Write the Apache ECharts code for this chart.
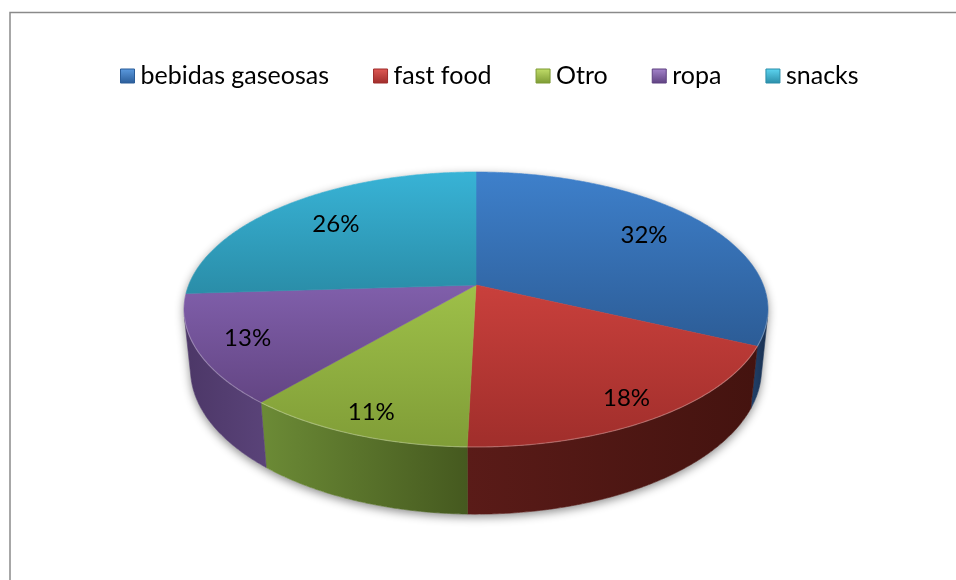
<!DOCTYPE html>
<html><head><meta charset="utf-8">
<script src="https://cdn.jsdelivr.net/npm/echarts@6/dist/echarts.min.js"></script>
<style>html,body{margin:0;padding:0;background:#fff}#c{width:956px;height:580px}</style>
</head><body><div id="c"></div>
<script>
// ---- data ----
const categories = ['bebidas gaseosas', 'fast food', 'Otro', 'ropa', 'snacks'];
const values = [32.0, 18.4, 10.8, 12.8, 26.0];

// ---- styles ----
const topColors = [['#3E80CB', '#2C5C96'], ['#C9403C', '#A02E2B'], ['#9EC049', '#809D37'], ['#805FAB', '#634583'], ['#38B3D6', '#2A8DA8']];
const wallColors = [['#22426C', '#182E4D'], ['#5A1B18', '#44130F'], ['#6C8B36', '#45591F'], ['#4C3767', '#5A4379'], ['#1E6F86', '#185A6C']];
const legendColors = [['#5C9BE0', '#2A5C98'], ['#E05A55', '#9E2C2A'], ['#C2DE6A', '#7C9A33'], ['#A585CC', '#5E4180'], ['#5ED6F2', '#2A8DA8']];
const FONT = 'Lato, "Open Sans", sans-serif';

// ---- 3D projection (layout) ----
const DEG = Math.PI / 180;
const CX = 476, CY = 285, FOCAL = 1428.8, DIST = 4.973, TILT = 27.6 * DEG, THICK = 0.2366;
function proj(phi, y, t) {
  const X = t * Math.sin(phi), Z = -t * Math.cos(phi);
  const u = y * Math.cos(TILT) - Z * Math.sin(TILT);
  const depth = DIST - y * Math.sin(TILT) - Z * Math.cos(TILT);
  return [CX + FOCAL * X / depth, CY - FOCAL * u / depth];
}
const VIS_MIN = Math.acos(-1 / (DIST * Math.cos(TILT)));
const VIS_MAX = 2 * Math.PI - VIS_MIN;
function arc(a, b, y, t) {
  const n = Math.max(2, Math.ceil((b - a) / (0.5 * DEG)));
  const pts = [];
  for (let i = 0; i <= n; i++) pts.push(proj(a + (b - a) * i / n, y, t));
  return pts;
}
const total = values.reduce((s, v) => s + v, 0);
const starts = [];
let acc = 0;
values.forEach(v => { starts.push(acc / total * 2 * Math.PI); acc += v; });

function grad(c, horiz) {
  return new echarts.graphic.LinearGradient(0, 0, horiz ? 1 : 0, horiz ? 0 : 1, [
    { offset: 0, color: c[0] }, { offset: 1, color: c[1] }]);
}

function renderSlice(i) {
  const a = starts[i], b = a + values[i] / total * 2 * Math.PI;
  const children = [];
  const wa = Math.max(a, VIS_MIN), wb = Math.min(b, VIS_MAX);
  if (wb > wa) {
    const pts = arc(wa, wb, 0, 1).concat(arc(wa, wb, -THICK, 1).reverse());
    const g = grad(wallColors[i], true);
    children.push({ type: 'polygon', z2: 1, shape: { points: pts }, style: { fill: g, stroke: g, lineWidth: 0.6 } });
  }
  const topPts = [proj(0, 0, 0)].concat(arc(a, b, 0, 1));
  const tg = grad(topColors[i], false);
  children.push({ type: 'polygon', z2: 2, shape: { points: topPts }, style: { fill: tg, stroke: tg, lineWidth: 0.6 } });
  if (wb > wa) {
    children.push({ type: 'polyline', z2: 3, shape: { points: arc(wa, wb, 0, 1) }, style: { fill: null, stroke: 'rgba(255,255,255,0.25)', lineWidth: 1.2 } });
  }
  const mid = (a + b) / 2;
  const labelR = 0.79 - 0.09 * Math.cos(mid);
  const p = proj(mid, 0, labelR);
  children.push({
    type: 'text', z2: 4, x: p[0], y: p[1],
    style: { text: Math.round(values[i] / total * 100) + '%', fill: '#000', font: '24px ' + FONT, align: 'center', verticalAlign: 'middle', textAlign: 'center', textVerticalAlign: 'middle' }
  });
  return { type: 'group', children };
}

function renderShadow() {
  const back = arc(VIS_MAX, VIS_MIN + 2 * Math.PI, 0, 1);
  const front = arc(VIS_MIN, VIS_MAX, -THICK, 1);
  return {
    type: 'polygon', shape: { points: back.concat(front) },
    style: { fill: '#fff', shadowBlur: 10, shadowColor: 'rgba(0,0,0,0.45)', shadowOffsetY: 3 }
  };
}

const series = [{
  type: 'custom', name: '__shadow', coordinateSystem: 'none', silent: true, z: 1,
  data: [[0]], renderItem: () => renderShadow()
}];
categories.forEach((name, i) => {
  series.push({
    type: 'custom', name, coordinateSystem: 'none', z: 2, silent: true,
    itemStyle: { color: topColors[i][0] },
    data: [[values[i]]],
    renderItem: () => renderSlice(i)
  });
});

const chart = echarts.init(document.getElementById('c'), null, { renderer: 'canvas' });
chart.setOption({
  animation: false,
  backgroundColor: '#fff',
  graphic: [{ type: 'rect', silent: true, z: 0, shape: { x: 10, y: 12.5, width: 1000, height: 700 }, style: { fill: null, stroke: '#8a8a8a', lineWidth: 1.5 } }],
  legend: {
    left: 115, top: 57, itemGap: 44, itemWidth: 14, itemHeight: 14,
    textStyle: { fontFamily: FONT, fontSize: 25, color: '#000', lineHeight: 28, padding: [0, 0, 0, 1] },
    data: categories.map((name, i) => ({
      name, icon: 'rect',
      itemStyle: { color: grad(legendColors[i], false), borderColor: legendColors[i][1], borderWidth: 1 }
    })),
    selectedMode: false
  },
  series
});
</script>
</body></html>
